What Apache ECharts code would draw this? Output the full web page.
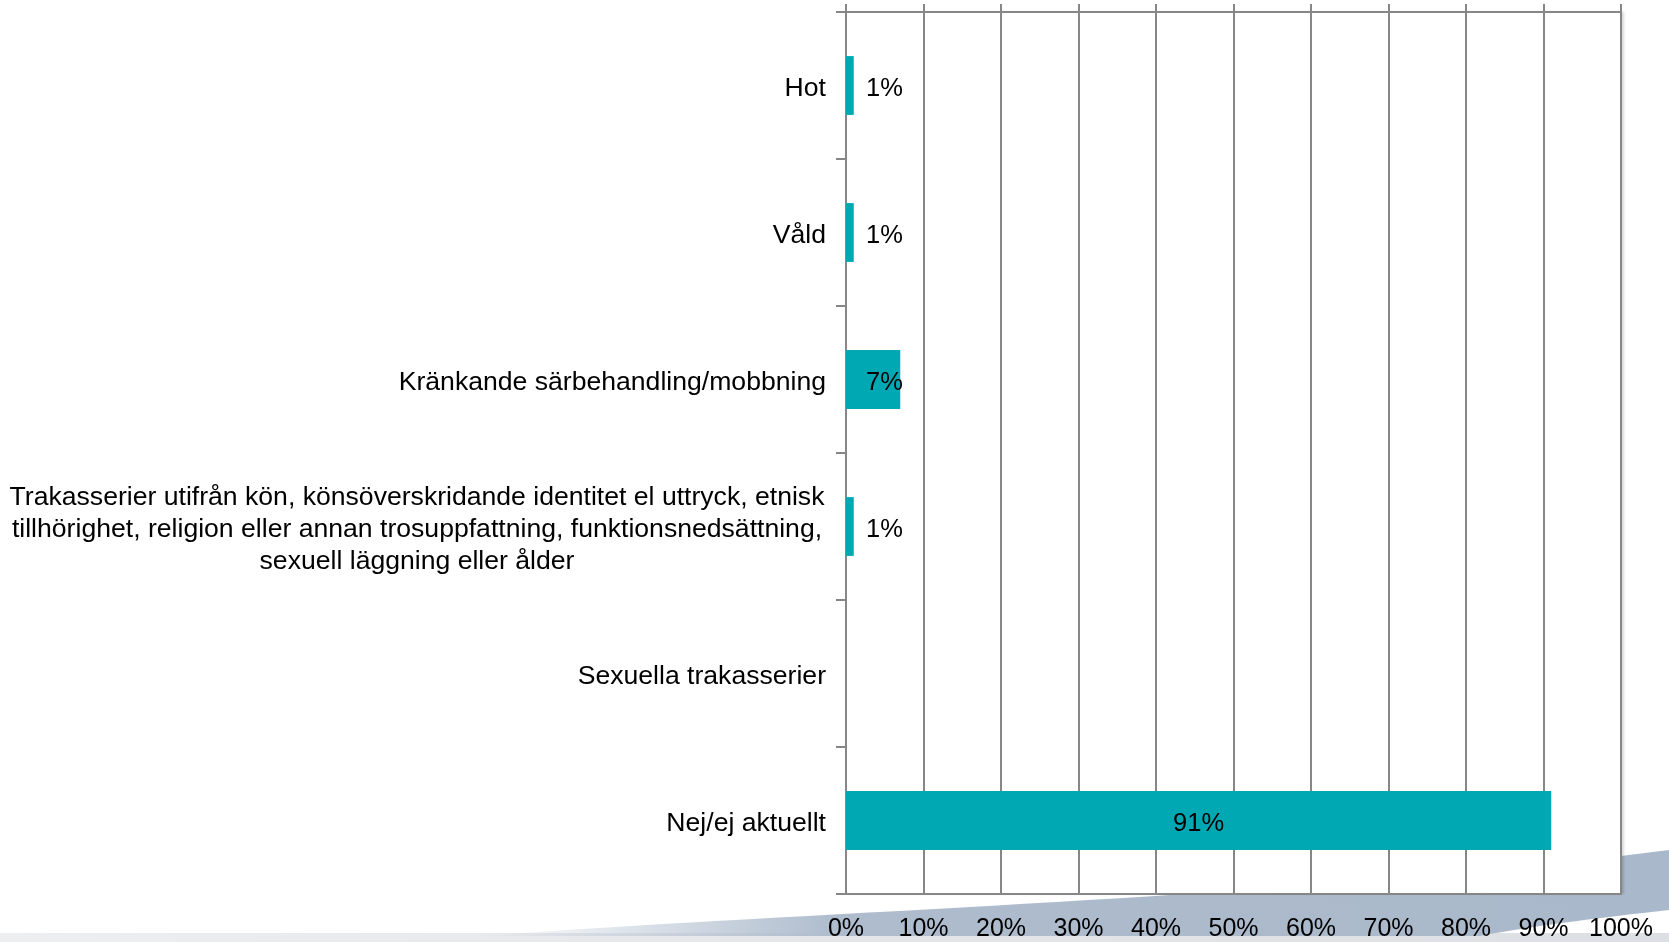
<!DOCTYPE html>
<html>
<head>
<meta charset="utf-8">
<script src="https://cdn.jsdelivr.net/npm/echarts@6/dist/echarts.min.js"></script>
<style>
  html, body { margin: 0; padding: 0; background: #fff; }
  #main { width: 1669px; height: 942px; }
</style>
</head>
<body>
<div id="main"></div>
<script>
// data
var categories = [
    'Hot',
    'Våld',
    'Kränkande särbehandling/mobbning',
    'Trakasserier utifrån kön, könsöverskridande identitet el uttryck, etnisk\ntillhörighet, religion eller annan trosuppfattning, funktionsnedsättning,\nsexuell läggning eller ålder',
    'Sexuella trakasserier',
    'Nej/ej aktuellt'
];
var values = [1, 1, 7, 1, 0, 91];
var xTicks = [0, 10, 20, 30, 40, 50, 60, 70, 80, 90, 100];

var font = '"Liberation Sans", Arial, sans-serif';
var gridColor = '#878787';

// background swoosh (slide decoration)
function bez(p0, p1, p2, p3, n) {
    var out = [];
    for (var i = 0; i <= n; i++) {
        var t = i / n, u = 1 - t;
        out.push([
            u*u*u*p0[0] + 3*u*u*t*p1[0] + 3*u*t*t*p2[0] + t*t*t*p3[0],
            u*u*u*p0[1] + 3*u*u*t*p1[1] + 3*u*t*t*p2[1] + t*t*t*p3[1]
        ]);
    }
    return out;
}
var swoosh = bez([480, 936], [800, 912], [1300, 898], [1669, 850], 40)
    .concat(bez([1669, 910], [1580, 920], [1520, 928], [1480, 936], 20));

var myChart = echarts.init(document.getElementById('main'));

var barData = values.map(function (v) {
    return {
        value: v,
        label: {
            position: v > 50 ? 'inside' : 'insideLeft',
            distance: 20
        }
    };
});

myChart.setOption({
    animation: false,
    textStyle: { fontFamily: font },
    graphic: [
        {
            type: 'rect',
            z: -10,
            shape: { x: 0, y: 933, width: 1669, height: 9 },
            style: {
                fill: {
                    type: 'linear', x: 0, y: 0, x2: 1, y2: 0,
                    colorStops: [
                        { offset: 0, color: '#eceef0' },
                        { offset: 1, color: '#dcdfe3' }
                    ]
                }
            }
        },
        {
            type: 'polygon',
            z: -9,
            shape: { points: swoosh },
            style: {
                fill: {
                    type: 'linear', x: 0, y: 0, x2: 1, y2: 0,
                    colorStops: [
                        { offset: 0, color: 'rgba(174,188,205,0)' },
                        { offset: 0.3, color: '#aebccd' },
                        { offset: 1, color: '#a9b8ca' }
                    ]
                }
            }
        }
    ],
    grid: {
        left: 846,
        right: 48,
        top: 12,
        bottom: 47,
        show: true,
        backgroundColor: '#fff',
        borderWidth: 0,
        shadowColor: 'rgba(0,0,0,0.15)',
        shadowOffsetX: 3,
        shadowBlur: 2
    },
    xAxis: [
        {
            type: 'value',
            position: 'bottom',
            min: xTicks[0],
            max: xTicks[xTicks.length - 1],
            interval: 10,
            axisLine: { show: true, lineStyle: { color: gridColor, width: 2 } },
            axisTick: { show: false },
            splitLine: { show: true, lineStyle: { color: gridColor, width: 2 } },
            axisLabel: {
                formatter: '{value}%',
                color: '#000',
                fontSize: 25,
                margin: 23,
                fontFamily: font
            }
        },
        {
            type: 'value',
            position: 'top',
            min: xTicks[0],
            max: xTicks[xTicks.length - 1],
            interval: 10,
            axisLine: { show: true, lineStyle: { color: gridColor, width: 2 } },
            axisTick: { show: true, length: 8, lineStyle: { color: gridColor, width: 2 } },
            splitLine: { show: false },
            axisLabel: { show: false }
        }
    ],
    yAxis: {
        type: 'category',
        inverse: true,
        data: categories,
        axisLine: { show: true, lineStyle: { color: gridColor, width: 2 } },
        axisTick: { show: true, length: 10, lineStyle: { color: gridColor, width: 2 } },
        axisLabel: {
            color: '#000',
            fontSize: 26.6,
            margin: 20,
            align: 'right',
            padding: [6, 0, 0, 0],
            fontFamily: font,
            formatter: function (v) {
                if (v.indexOf('\n') < 0) return v;
                return v.split('\n').map(function (s) { return '{c|' + s + '}'; }).join('\n');
            },
            rich: {
                c: {
                    width: 818,
                    align: 'center',
                    fontSize: 26.6,
                    lineHeight: 32,
                    color: '#000',
                    fontFamily: font
                }
            }
        }
    },
    series: [
        {
            type: 'bar',
            xAxisIndex: 0,
            data: barData,
            barCategoryGap: '60%',
            itemStyle: { color: '#00a8b4' },
            label: {
                show: true,
                color: '#000',
                fontSize: 25.5,
                fontFamily: font,
                offset: [0, 3],
                formatter: function (p) { return p.value ? p.value + '%' : ''; }
            }
        }
    ]
});
</script>
</body>
</html>
